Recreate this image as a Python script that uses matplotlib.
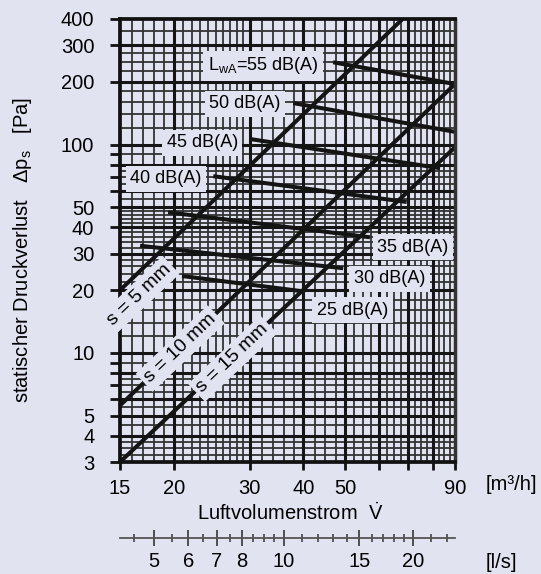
import matplotlib
matplotlib.use('Agg')
import matplotlib.pyplot as plt
from matplotlib.ticker import NullLocator, NullFormatter

plt.rcParams['font.family'] = ['Liberation Sans', 'DejaVu Sans']
plt.rcParams['mathtext.fontset'] = 'custom'
plt.rcParams['mathtext.rm'] = 'Liberation Sans'
plt.rcParams['mathtext.it'] = 'Liberation Sans:italic'

BG = '#e1e3f1'

# slot width lines s (flow m3/h -> pressure Pa)
s_labels = ['s = 5 mm', 's = 10 mm', 's = 15 mm']
s_flow = [[15, 68], [15, 90], [15, 90]]
s_dp = [[20, 400], [5.6, 195], [3, 97]]
s_label_pos = [(16.6, 18.9), (20.7, 10.5), (27.4, 9.4)]

# sound power level lines
db_labels = [r'L$_{\mathrm{wA}}$=55 dB(A)', '50 dB(A)', '45 dB(A)', '40 dB(A)',
             '35 dB(A)', '30 dB(A)', '25 dB(A)']
db_flow = [[46.9, 90], [37.9, 90], [30.3, 83.1], [24.7, 69.5],
           [19.4, 57.1], [16.7, 49.5], [20.9, 40.4]]
db_dp = [[248, 195], [158, 115], [106, 77], [70.5, 53],
         [47.3, 35.9], [32.7, 25.5], [23.4, 19.7]]
db_label_pos = [(32.2, 247), (29.3, 160), (23.3, 104), (19.2, 70),
                (71.9, 32.9), (63.4, 23.2), (52.0, 16.4)]

# grid
x_heavy = [20, 30, 40, 50, 60, 70, 80]
x_thin = [16, 17, 18, 19, 21, 22, 23, 24, 25, 26, 27, 28, 29, 32, 34, 36, 38,
          42.5, 45, 47.5, 52.5, 55, 57.5, 62.5, 65, 67.5, 72.5, 75, 77.5,
          82.5, 85, 87.5]
y_heavy = [4, 5, 6, 8, 10, 20, 30, 40, 50, 60, 80, 100, 200, 300]
y_thin = [3.25, 3.5, 3.75, 4.5, 5.5, 6.5, 7, 7.5, 9, 12, 14, 16, 18,
          22, 24, 26, 28, 32, 34, 36, 38, 42, 44, 46, 48, 55, 65, 70,
          75, 90, 120, 140, 160, 180, 225, 250, 275, 350]

x_ticks = [15, 20, 30, 40, 50, 60, 70, 80, 90]
x_ticklabels = ['15', '20', '30', '40', '50', '', '', '', '90']
y_ticks = [3, 4, 5, 6, 7, 8, 9, 10, 20, 30, 40, 50, 60, 70, 80, 90, 100, 200, 300, 400]
y_ticklabels = ['3', '4', '5', '', '', '', '', '10', '20', '30', '40', '50',
                '', '', '', '', '100', '200', '300', '400']

ls_major = [5, 6, 7, 8, 10, 15, 20]
ls_minor = [4.5, 5.5, 6.5, 7.5, 8.5, 9, 9.5, 11, 12, 13, 14, 16, 17, 18, 19, 22, 24]

fig = plt.figure(figsize=(5.41, 5.74), dpi=100, facecolor=BG)
ax = fig.add_axes([120 / 541, 1 - 462 / 574, 335 / 541, 443 / 574], facecolor=BG)
ax.set_xscale('log')
ax.set_yscale('log')
ax.set_xlim(15, 90)
ax.set_ylim(3, 400)

ax.vlines(x_thin, 3, 400, colors='#333333', lw=1.3, zorder=1)
ax.hlines(y_thin, 15, 90, colors='#333333', lw=1.3, zorder=1)
ax.vlines(x_heavy, 3, 400, colors='#151515', lw=2.2, zorder=1.2)
ax.hlines(y_heavy, 15, 90, colors='#151515', lw=2.2, zorder=1.2)

for fl, dp in zip(s_flow, s_dp):
    ax.plot(fl, dp, color='#141414', lw=2.9, solid_capstyle='butt', zorder=3)
for fl, dp in zip(db_flow, db_dp):
    ax.plot(fl, dp, color='#141414', lw=2.9, solid_capstyle='butt', zorder=3)

for txt, (x, y) in zip(s_labels, s_label_pos):
    ax.text(x, y, txt, fontsize=14, rotation=43.5, rotation_mode='anchor',
            ha='center', va='center', zorder=6, clip_on=False,
            bbox=dict(boxstyle='square,pad=0.2', fc=BG, ec='none'))
for txt, (x, y) in zip(db_labels, db_label_pos):
    ax.text(x, y, txt, fontsize=13, ha='center', va='center_baseline', zorder=6,
            bbox=dict(boxstyle='square,pad=0.25', fc=BG, ec='none'))

for side in ['left', 'bottom', 'top']:
    ax.spines[side].set_linewidth(2.7)
    ax.spines[side].set_color('#111111')
ax.spines['right'].set_linewidth(2.5)
ax.spines['right'].set_color('#333333')
for sp in ax.spines.values():
    sp.set_zorder(4)

ax.xaxis.set_minor_locator(NullLocator())
ax.yaxis.set_minor_locator(NullLocator())
ax.set_xticks(x_ticks)
ax.set_xticklabels(x_ticklabels)
ax.set_yticks(y_ticks)
ax.set_yticklabels(y_ticklabels)
ax.tick_params(axis='y', length=7.5, width=2.0, pad=11, labelsize=14.5, color='#111111')
ax.tick_params(axis='x', length=6, width=2.0, pad=6, labelsize=14.5, color='#111111')

sec = ax.secondary_xaxis(-0.1716, functions=(lambda v: v / 3.6, lambda v: v * 3.6))
sec.set_xticks(ls_major)
sec.set_xticklabels([str(v) for v in ls_major])
sec.set_xticks(ls_minor, minor=True)
sec.xaxis.set_minor_formatter(NullFormatter())
sec.spines['bottom'].set_color('#555555')
sec.spines['bottom'].set_linewidth(1.3)
sec.tick_params(which='major', direction='inout', length=11.5, width=1.3,
                color='#444444', pad=4, labelsize=14.5)
sec.tick_params(which='minor', direction='inout', length=6, width=1.2, color='#444444')

fig.text(23 / 541, 1 - 250 / 574, 'statischer Druckverlust   Δp$_{\\mathrm{s}}$   [Pa]',
         rotation=90, ha='center', va='center', fontsize=14.5)
fig.text(290 / 541, 1 - 513 / 574, 'Luftvolumenstrom  $\\dot{\\mathrm{V}}$',
         ha='center', va='center', fontsize=14.5)
fig.text(511 / 541, 1 - 485 / 574, '[m³/h]', ha='center', va='center', fontsize=14.5)
fig.text(501 / 541, 1 - 563 / 574, '[l/s]', ha='center', va='center', fontsize=14.5)

fig.savefig('out.png', dpi=100, facecolor=BG)
